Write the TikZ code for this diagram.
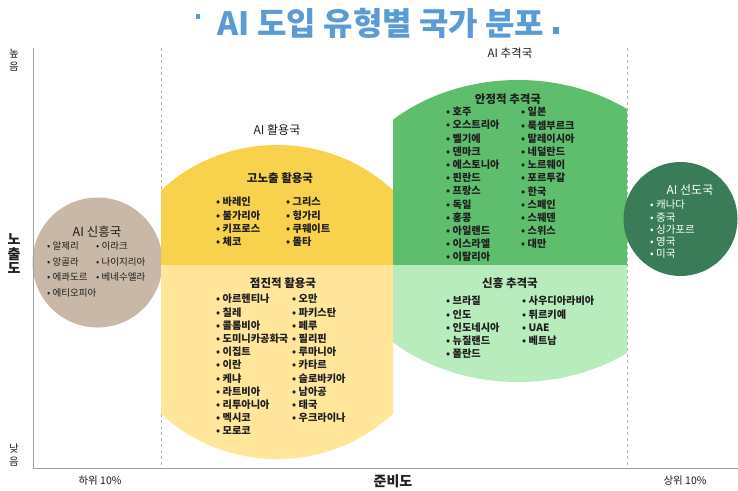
\documentclass[tikz,border=0pt]{standalone}
\usepackage{fontspec}
\setmainfont{Noto Sans CJK KR}
\definecolor{beige}{RGB}{201,184,167}
\definecolor{ydark}{RGB}{249,210,77}
\definecolor{ylight}{RGB}{255,230,155}
\definecolor{gdark}{RGB}{95,190,110}
\definecolor{glight}{RGB}{185,236,189}
\definecolor{lead}{RGB}{58,124,88}
\definecolor{titleblue}{RGB}{91,155,213}
\definecolor{axisgray}{RGB}{160,160,160}
\definecolor{ink}{RGB}{30,30,30}
\begin{document}
\begin{tikzpicture}[x=1pt,y=-1pt,
  listB/.style={anchor=north west, align=left, inner sep=0pt, text=ink, font=\fontsize{10.2}{13.2}\selectfont\bfseries},
  listR/.style={anchor=north west, align=left, inner sep=0pt, text=ink, font=\fontsize{9.5}{15.7}\selectfont},
  listW/.style={anchor=north west, align=left, inner sep=0pt, text=white, font=\fontsize{10.5}{12.2}\selectfont},
  head/.style={inner sep=0pt, text=ink, font=\fontsize{11.5}{14}\selectfont\bfseries},
  group/.style={inner sep=0pt, text=ink, font=\fontsize{12}{14}\selectfont},
  axlab/.style={inner sep=0pt, text=ink, align=center, font=\fontsize{10.5}{12.5}\selectfont},
  axbig/.style={inner sep=0pt, text=ink, align=center, font=\fontsize{14}{14.5}\selectfont\bfseries},
  divider/.style={draw=axisgray!80, dashed, line width=0.8pt},
  axis/.style={draw=axisgray, line width=1pt}]
\useasboundingbox (0,0) rectangle (738,490);
\fill[white] (0,0) rectangle (738,490);

% title
\fill[titleblue] (195.5,14) rectangle (199.5,19);
\node[inner sep=0pt, text=titleblue, font=\fontsize{32}{34}\selectfont\bfseries] (title) at (381,23) {AI 도입 유형별 국가 분포};
\fill[titleblue] (553,27) rectangle (559,34);

% dividers
\coordinate (d1t) at (161,48); \coordinate (d1b) at (161,468);
\coordinate (d2t) at (627,48); \coordinate (d2b) at (627,468);
\draw[divider] (d1t) -- (d1b);
\draw[divider] (d2t) -- (d2b);

% AI emerging (beige circle)
\fill[beige] (97.5,262.5) circle (65);

% AI utilisation (yellow)
\begin{scope}
  \clip (161,0) rectangle (393,265);
  \fill[ydark] (277,302) ellipse [x radius=165, y radius=157];
\end{scope}
\begin{scope}
  \clip (161,265) rectangle (393,490);
  \fill[ylight] (277,302) ellipse [x radius=165, y radius=157];
\end{scope}

% AI catch-up (green)
\begin{scope}
  \clip (393,0) rectangle (627,265);
  \fill[gdark] (518,231) ellipse [x radius=185, y radius=151];
\end{scope}
\begin{scope}
  \clip (393,265) rectangle (627,490);
  \fill[glight] (518,231) ellipse [x radius=185, y radius=151];
\end{scope}

% AI leaders
\fill[lead] (680.5,219) circle (57);

% axes
\coordinate (o) at (33,468); \coordinate (yt) at (33,48); \coordinate (xr) at (738,468);
\draw[axis] (yt) -- (o) -- (xr);

% axis labels
\node[axlab] (high) at (14,60) {높\\음};
\node[axbig] (expo) at (14,254) {노\\출\\도};
\node[axlab] (low) at (14,455) {낮\\음};
\node[axlab] (bot10) at (100,481) {하위 10\%};
\node[axbig] (ready) at (393,481) {준비도};
\node[axlab] (top10) at (685,481) {상위 10\%};

% beige texts
\node[group, font=\fontsize{12.5}{14}\selectfont] (emT) at (97,232) {AI 신흥국};
\node[listR] (em1) at (47,241.5) {• 알제리\\• 앙골라\\• 에콰도르\\• 에티오피아};
\node[listR] (em2) at (96,241.5) {• 이라크\\• 나이지리아\\• 베네수엘라};

% yellow texts
\node[group] (utT) at (277,130) {AI 활용국};
\node[head] (hiT) at (280,178) {고노출 활용국};
\node[listB] (hi1) at (216,197) {• 바레인\\• 불가리아\\• 키프로스\\• 체코};
\node[listB] (hi2) at (286,197) {• 그리스\\• 헝가리\\• 쿠웨이트\\• 몰타};
\node[head] (grT) at (283,283) {점진적 활용국};
\node[listB] (gr1) at (216,294) {• 아르헨티나\\• 칠레\\• 콜롬비아\\• 도미니카공화국\\• 이집트\\• 이란\\• 케냐\\• 라트비아\\• 리투아니아\\• 멕시코\\• 모로코};
\node[listB] (gr2) at (292,294) {• 오만\\• 파키스탄\\• 페루\\• 필리핀\\• 루마니아\\• 카타르\\• 슬로바키아\\• 남아공\\• 태국\\• 우크라이나};

% green texts
\node[group, font=\fontsize{11.5}{14}\selectfont] (caT) at (510,53) {AI 추격국};
\node[head] (stT) at (508,99) {안정적 추격국};
\node[listB] (st1) at (446,107) {• 호주\\• 오스트리아\\• 벨기에\\• 덴마크\\• 에스토니아\\• 핀란드\\• 프랑스\\• 독일\\• 홍콩\\• 아일랜드\\• 이스라엘\\• 이탈리아};
\node[listB] (st2) at (521,107) {• 일본\\• 룩셈부르크\\• 말레이시아\\• 네덜란드\\• 노르웨이\\• 포르투갈\\• 한국\\• 스페인\\• 스웨덴\\• 스위스\\• 대만};
\node[head] (neT) at (510,283) {신흥 추격국};
\node[listB] (ne1) at (446,296) {• 브라질\\• 인도\\• 인도네시아\\• 뉴질랜드\\• 폴란드};
\node[listB] (ne2) at (522,296) {• 사우디아라비아\\• 튀르키예\\• UAE\\• 베트남};

% leaders texts
\node[inner sep=0pt, text=white, font=\fontsize{12}{14}\selectfont] (ldT) at (690,190) {AI 선도국};
\node[listW] (ld1) at (650,200) {• 캐나다\\• 중국\\• 싱가포르\\• 영국\\• 미국};
\end{tikzpicture}
\end{document}
